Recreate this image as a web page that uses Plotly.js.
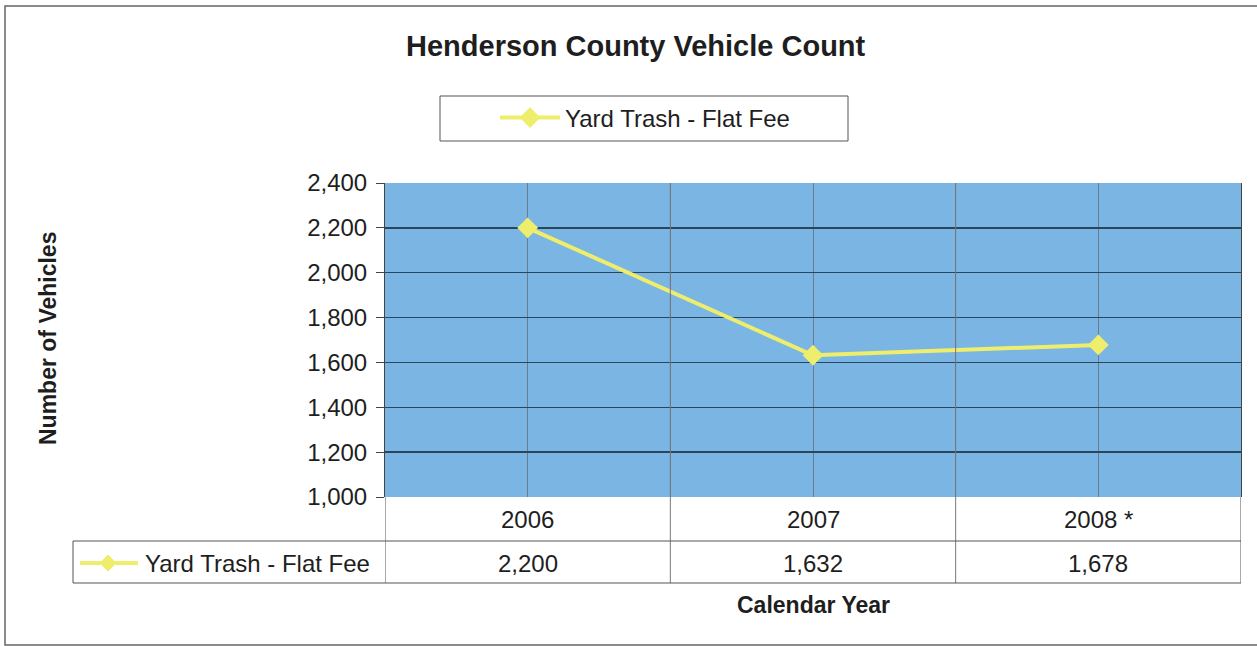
<!DOCTYPE html>
<html>
<head>
<meta charset="utf-8">
<script src="https://cdn.plot.ly/plotly-3.0.1.min.js"></script>
<style>html,body{margin:0;padding:0;background:#fff;}#chart{width:1257px;height:646px;}</style>
</head>
<body>
<div id="chart"></div>
<script>
// ---- data ----
const chartTitle = "Henderson County Vehicle Count";
const seriesName = "Yard Trash - Flat Fee";
const categories = ["2006", "2007", "2008 *"];
const values = [2200, 1632, 1678];
const yTicks = [1000, 1200, 1400, 1600, 1800, 2000, 2200, 2400];
const xTitle = "Calendar Year";
const yTitle = "Number of Vehicles";

// ---- layout helpers (pixel -> paper) ----
const W = 1257, H = 646;
const M = {l: 385, r: 16, t: 183, b: 149};
const PW = W - M.l - M.r, PH = H - M.t - M.b;
const px = x => (x - M.l) / PW;
const py = y => (H - M.b - y) / PH;

const FONT = "Liberation Sans, Arial, sans-serif";
const yellow = "#eeee6c";
const gridDark = "#27475c";
const lineGrey = "#555";
const TXT = "#1e1e1e";

const idx = categories.map((c, i) => i);

const trace = {
  x: idx,
  y: values,
  type: "scatter",
  mode: "lines+markers",
  name: seriesName,
  line: {color: yellow, width: 4},
  marker: {symbol: "diamond", size: 16, color: yellow},
  hoverinfo: "x+y"
};

const shapes = [];
const L = (x0, y0, x1, y1, xr, yr, color, w) => shapes.push({type: "line", xref: xr, yref: yr, x0, y0, x1, y1, line: {color: color || lineGrey, width: w || 1}});

// outer frame
shapes.push({type: "rect", xref: "paper", yref: "paper", x0: px(5), x1: px(1262), y0: py(6), y1: py(645), line: {color: "#666", width: 1.5}, layer: "below"});
// legend box
shapes.push({type: "rect", xref: "paper", yref: "paper", x0: px(440), x1: px(848), y0: py(96), y1: py(141), line: {color: "#555", width: 1}});
// data table
const yRow1 = py(541), yRow2 = py(583);
L(-0.5, 0, -0.5, yRow2, "x", "paper");
L(0.5, 1, 0.5, yRow2, "x", "paper", "#777");
L(1.5, 1, 1.5, yRow2, "x", "paper", "#777");
L(2.5, 0, 2.5, yRow2, "x", "paper");
L(px(73), yRow1, 1, yRow1, "paper", "paper");
L(px(73), yRow2, 1, yRow2, "paper", "paper");
L(px(73), yRow1, px(73), yRow2, "paper", "paper");
// table legend key
L(px(80), py(563), px(138), py(563), "paper", "paper", yellow, 4);
shapes.push({type: "path", xref: "paper", yref: "paper",
  path: `M ${px(108)} ${py(555)} L ${px(116)} ${py(563)} L ${px(108)} ${py(571)} L ${px(100)} ${py(563)} Z`,
  fillcolor: yellow, line: {color: yellow, width: 1}});

const annotations = [];
const ann = (o) => annotations.push(Object.assign({showarrow: false, xanchor: "center", yanchor: "middle"}, o));
ann({text: "<b>" + chartTitle + "</b>", xref: "paper", yref: "paper", x: px(636), y: py(46), font: {family: FONT, size: 29, color: TXT}});
ann({text: "<b>" + yTitle + "</b>", xref: "paper", yref: "paper", x: px(48), y: py(339), textangle: -90, font: {family: FONT, size: 23, color: TXT}});
ann({text: "<b>" + xTitle + "</b>", xref: "x", yref: "paper", x: 1, y: py(605), font: {family: FONT, size: 23, color: TXT}});
categories.forEach((c, i) => {
  ann({text: c, xref: "x", yref: "paper", x: i, y: py(519), font: {family: FONT, size: 24, color: TXT}});
  ann({text: values[i].toLocaleString("en-US"), xref: "x", yref: "paper", x: i, y: py(563), font: {family: FONT, size: 24, color: TXT}});
});
ann({text: seriesName, xref: "paper", yref: "paper", x: px(143), y: py(563), xanchor: "left", font: {family: FONT, size: 24, color: TXT}});

const layout = {
  width: W, height: H,
  margin: M,
  paper_bgcolor: "#ffffff",
  plot_bgcolor: "#7ab5e4",
  font: {family: FONT, size: 24, color: TXT},
  showlegend: true,
  legend: {x: px(495), y: py(118), xanchor: "left", yanchor: "middle", bgcolor: "rgba(0,0,0,0)", font: {family: FONT, size: 24, color: TXT}, itemwidth: 60},
  xaxis: {
    range: [-0.5, 2.5],
    tickvals: [0, 0.5, 1, 1.5, 2],
    showticklabels: false,
    ticks: "",
    showgrid: true, gridcolor: "#6b7d8c", gridwidth: 1,
    zeroline: false, showline: false, fixedrange: true
  },
  yaxis: {
    range: [1000, 2400],
    tickvals: yTicks,
    tickformat: ",d",
    ticks: "outside", ticklen: 8, tickcolor: "#444", tickwidth: 1,
    ticklabelstandoff: 4,
    showgrid: true, gridcolor: gridDark, gridwidth: 1.5,
    zeroline: false,
    showline: true, linecolor: "#444", linewidth: 1, mirror: true,
    tickfont: {family: FONT, size: 24, color: TXT},
    fixedrange: true
  },
  shapes, annotations
};

Plotly.newPlot("chart", [trace], layout, {displayModeBar: false, staticPlot: true});
</script>
</body>
</html>
